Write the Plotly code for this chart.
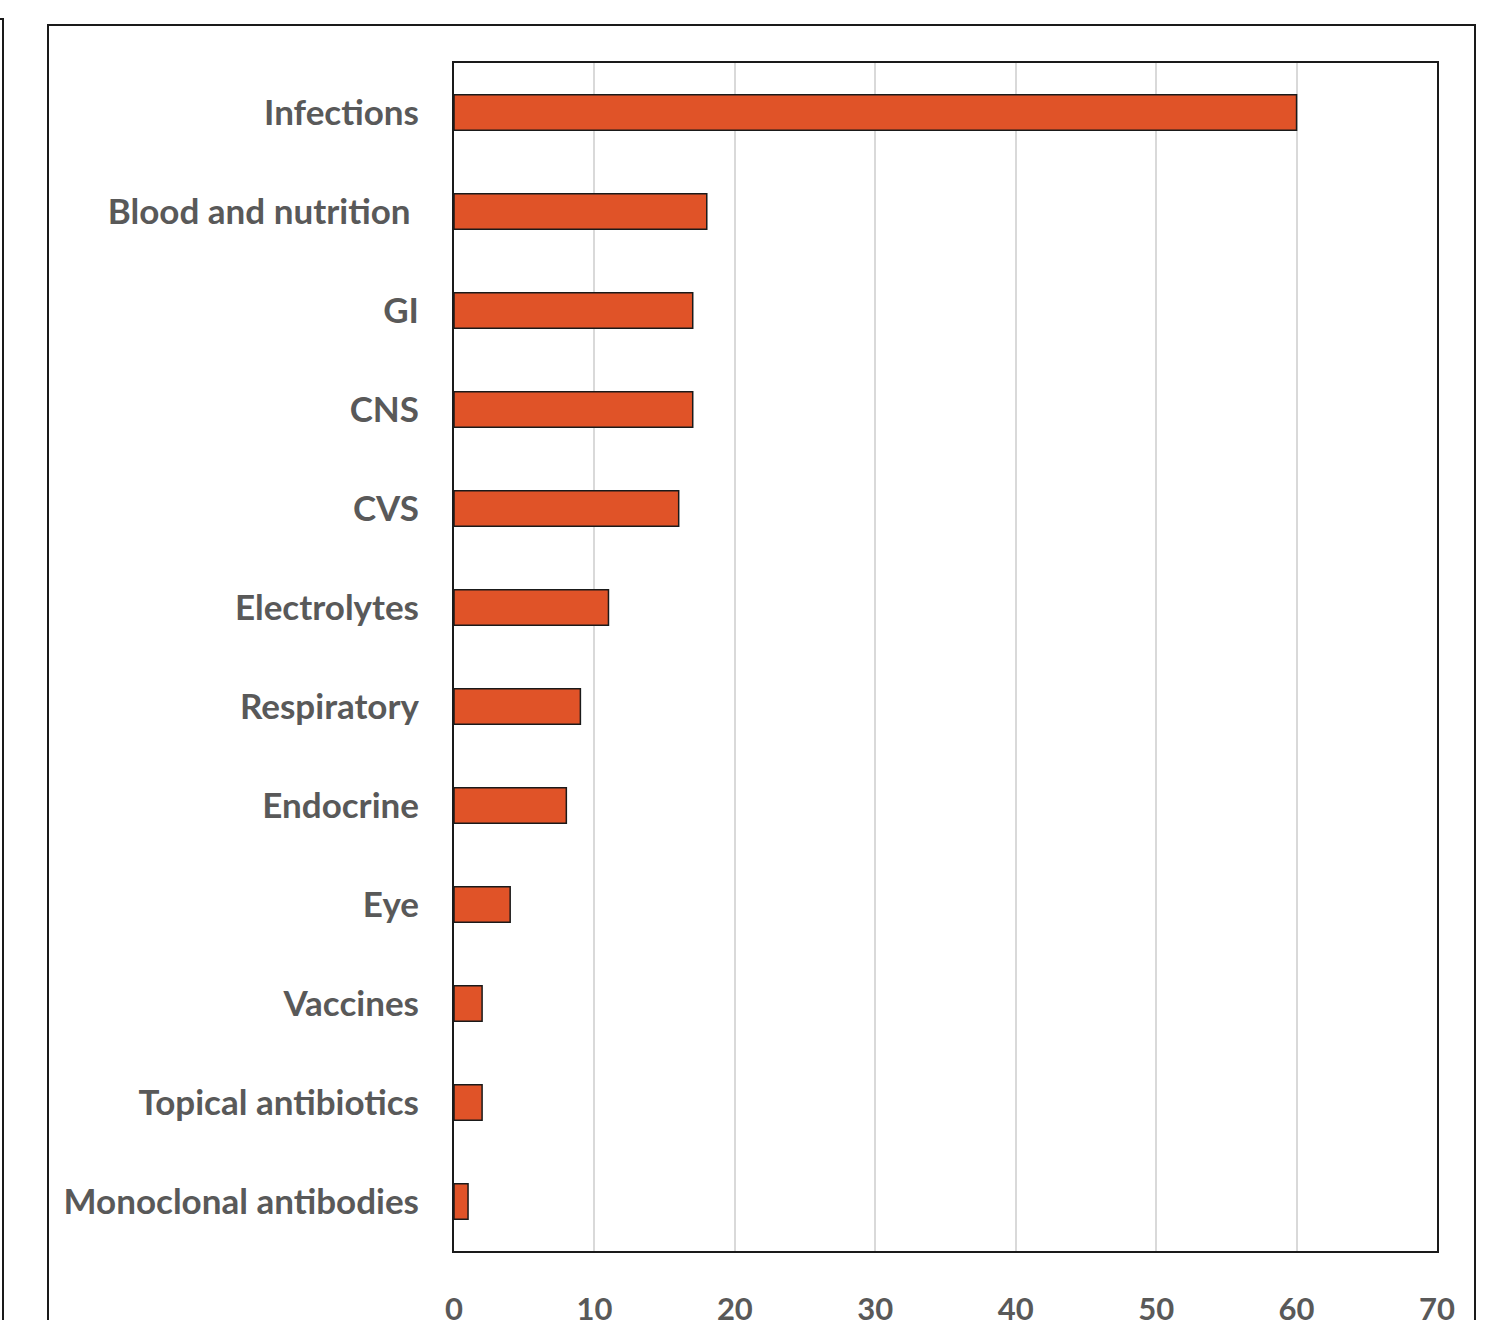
import plotly.graph_objects as go

# Number of items per therapeutic category
categories = [
    "Infections", "Blood and nutrition\u00a0", "GI", "CNS", "CVS", "Electrolytes",
    "Respiratory", "Endocrine", "Eye", "Vaccines", "Topical antibiotics",
    "Monoclonal antibodies",
]
counts = [60, 18, 17, 17, 16, 11, 9, 8, 4, 2, 2, 1]
x_ticks = [0, 10, 20, 30, 40, 50, 60, 70]

W, H = 1506, 1320
L, R, T, B = 454, 1437, 63, 1251

FONT = "Lato, 'Open Sans', sans-serif"
label_font = dict(family=FONT, size=35, color="#595959", weight="bold")

fig = go.Figure(
    go.Bar(
        x=counts,
        y=categories,
        orientation="h",
        width=0.36,
        marker=dict(color="#E05328", line=dict(color="#1a1a1a", width=1.5)),
        hoverinfo="x+y",
    )
)


def px(x):
    return (x - L) / (R - L)


def py(y):
    return (B - y) / (B - T)


frame = dict(color="#1a1a1a", width=2)
shapes = [
    # outer chart frame
    dict(type="path", xref="paper", yref="paper",
         path=f"M {px(48)} {py(1340)} L {px(48)} {py(25)} L {px(1475)} {py(25)} L {px(1475)} {py(1340)}",
         line=frame),
    # edge of the neighbouring panel
    dict(type="path", xref="paper", yref="paper",
         path=f"M {px(-10)} {py(19)} L {px(3)} {py(19)} L {px(3)} {py(1340)}",
         line=frame),
]

fig.update_layout(
    width=W,
    height=H,
    margin=dict(l=L, r=W - R, t=T, b=H - B, pad=0, autoexpand=False),
    paper_bgcolor="white",
    plot_bgcolor="white",
    showlegend=False,
    shapes=shapes,
    xaxis=dict(
        range=[0, 70],
        tickvals=x_ticks,
        ticktext=[str(v) for v in x_ticks],
        automargin=False,
        showgrid=True,
        gridcolor="#d9d9d9",
        gridwidth=1.5,
        zeroline=False,
        showline=True,
        linecolor="#1a1a1a",
        linewidth=2,
        mirror=True,
        ticks="outside",
        ticklen=30,
        tickcolor="rgba(0,0,0,0)",
        tickfont=dict(family=FONT, size=31, color="#595959", weight="bold"),
    ),
    yaxis=dict(
        autorange="reversed",
        automargin=False,
        showgrid=False,
        zeroline=False,
        showline=True,
        linecolor="#1a1a1a",
        linewidth=2,
        mirror=True,
        ticks="outside",
        ticklen=26,
        tickcolor="rgba(0,0,0,0)",
        tickfont=label_font,
    ),
)

fig.write_html("out.html")
